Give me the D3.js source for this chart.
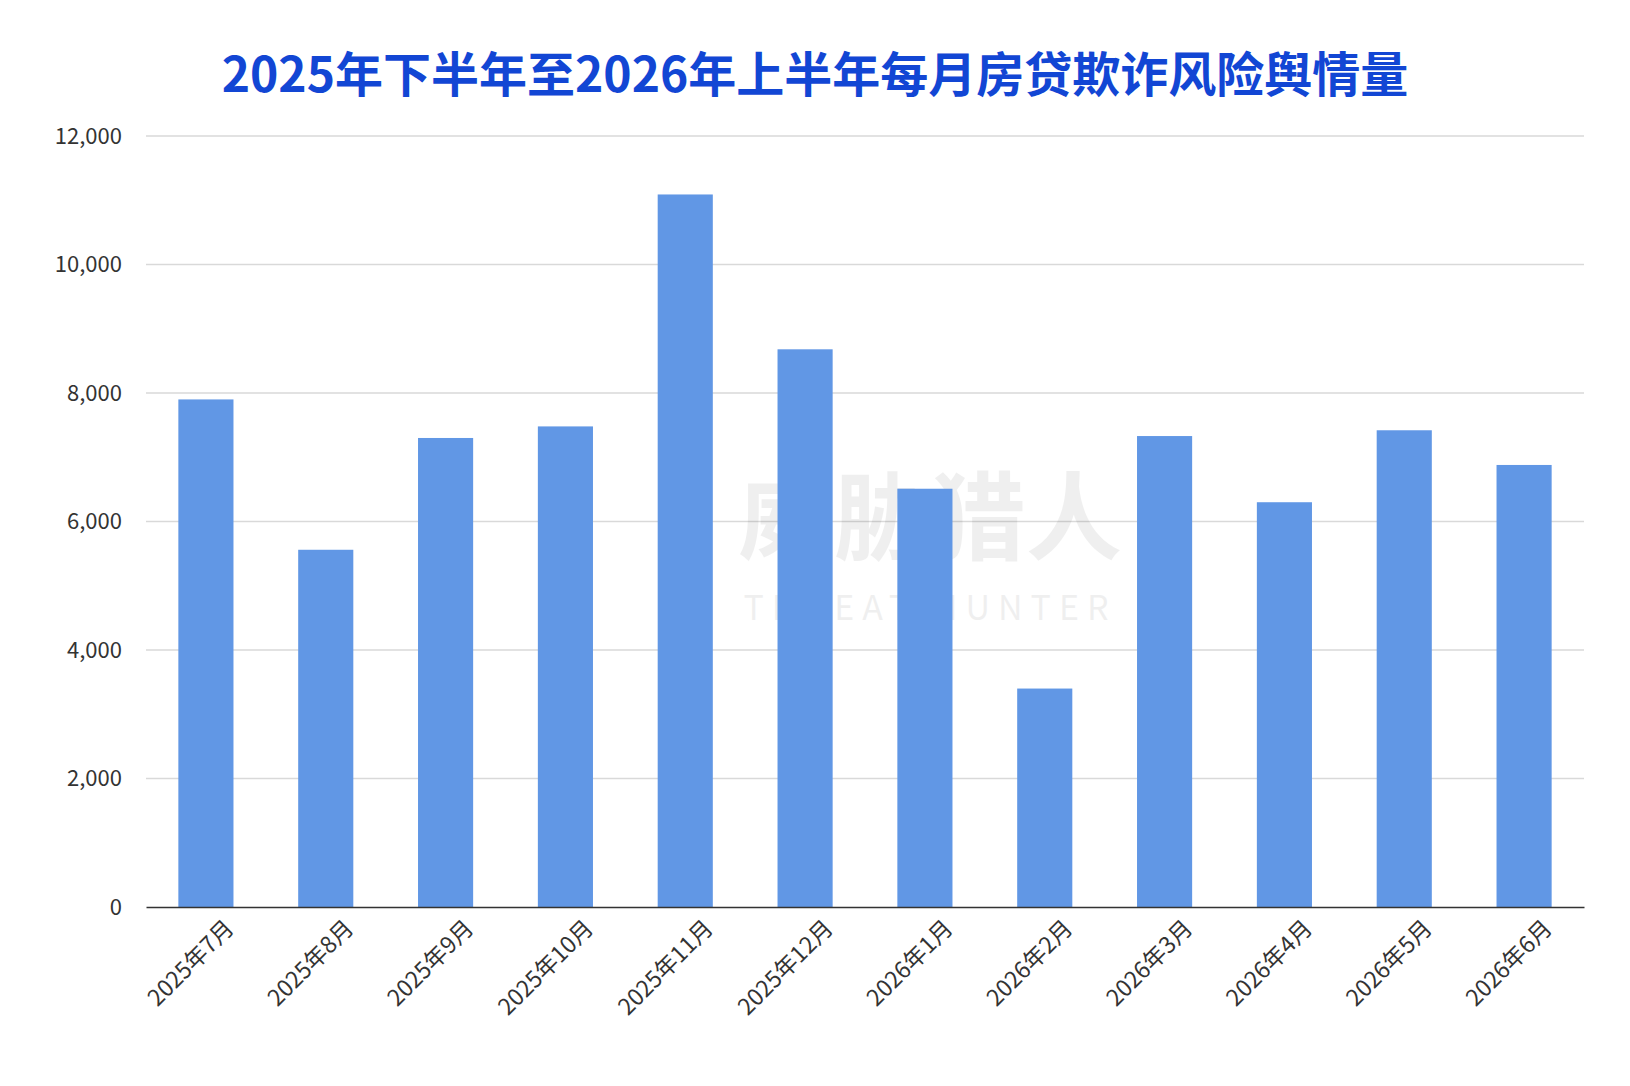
<!DOCTYPE html>
<html><head><meta charset="utf-8">
<script src="https://cdn.jsdelivr.net/npm/d3@7"></script>
<style>body{margin:0;background:#fff}</style>
</head><body>
<svg id="chart" width="1630" height="1086"></svg>
<script>
const months = ["2025年7月","2025年8月","2025年9月","2025年10月","2025年11月","2025年12月",
  "2026年1月","2026年2月","2026年3月","2026年4月","2026年5月","2026年6月"];
const counts = [7900, 5560, 7300, 7480, 11090, 8680, 6510, 3400, 7330, 6300, 7420, 6880];
const yTicks = [0, 2000, 4000, 6000, 8000, 10000, 12000];

const svg = d3.select("#chart");
const font = "'Noto Sans CJK SC', 'Noto Sans', sans-serif";
const m = {left: 146, right: 46, top: 136, bottom: 179};
const W = 1630, H = 1086;

let x = d3.scaleBand().domain(months).range([m.left, W - m.right]).paddingInner(0.54).paddingOuter(0.27);
let y = d3.scaleLinear().domain([0, 12000]).range([H - m.bottom, m.top]);

svg.append("text").attr("x", 815).attr("y", 92).attr("text-anchor", "middle")
  .attr("font-family", font).attr("font-weight", 700).attr("font-size", 48)
  .attr("fill", "#1246d4").text("2025年下半年至2026年上半年每月房贷欺诈风险舆情量");

// grid
svg.append("g").selectAll("line").data(yTicks.slice(1)).join("line")
  .attr("x1", m.left).attr("x2", W - m.right)
  .attr("y1", d => y(d)).attr("y2", d => y(d))
  .attr("stroke", "#d9d9d9").attr("stroke-width", 1.5);

// watermark
svg.append("text").attr("x", 930).attr("y", 552).attr("text-anchor", "middle")
  .attr("font-family", font).attr("font-weight", 700).attr("font-size", 96)
  .attr("fill", "#000").attr("opacity", 0.06).text("威胁猎人");
svg.append("text").attr("x", 930).attr("y", 620).attr("text-anchor", "middle")
  .attr("font-family", font).attr("font-size", 34).attr("letter-spacing", 8)
  .attr("fill", "#000").attr("opacity", 0.06).text("THREAT HUNTER");

svg.append("g").selectAll("rect").data(counts).join("rect")
  .attr("x", (d, i) => x(months[i])).attr("width", x.bandwidth())
  .attr("y", d => y(d)).attr("height", d => y(0) - y(d))
  .attr("fill", "#6197e5");

const ya = svg.append("g").attr("transform", `translate(${m.left},0)`)
  .call(d3.axisLeft(y).tickValues(yTicks).tickFormat(d3.format(",")).tickSize(0).tickPadding(24));
ya.select(".domain").remove();
ya.selectAll("text").attr("font-family", font).attr("font-size", 22).attr("fill", "#333");

const xa = svg.append("g").attr("transform", `translate(0,${y(0)})`)
  .call(d3.axisBottom(x).tickSize(0).tickPadding(30));
xa.select(".domain").attr("stroke", "#333").attr("stroke-width", 1.5);
xa.selectAll("text").attr("font-family", font).attr("font-size", 23).attr("fill", "#333")
  .attr("text-anchor", "end").attr("dx", "0.2em").attr("dy", "0.3em")
  .attr("transform", "rotate(-45)");
</script>
</body></html>
